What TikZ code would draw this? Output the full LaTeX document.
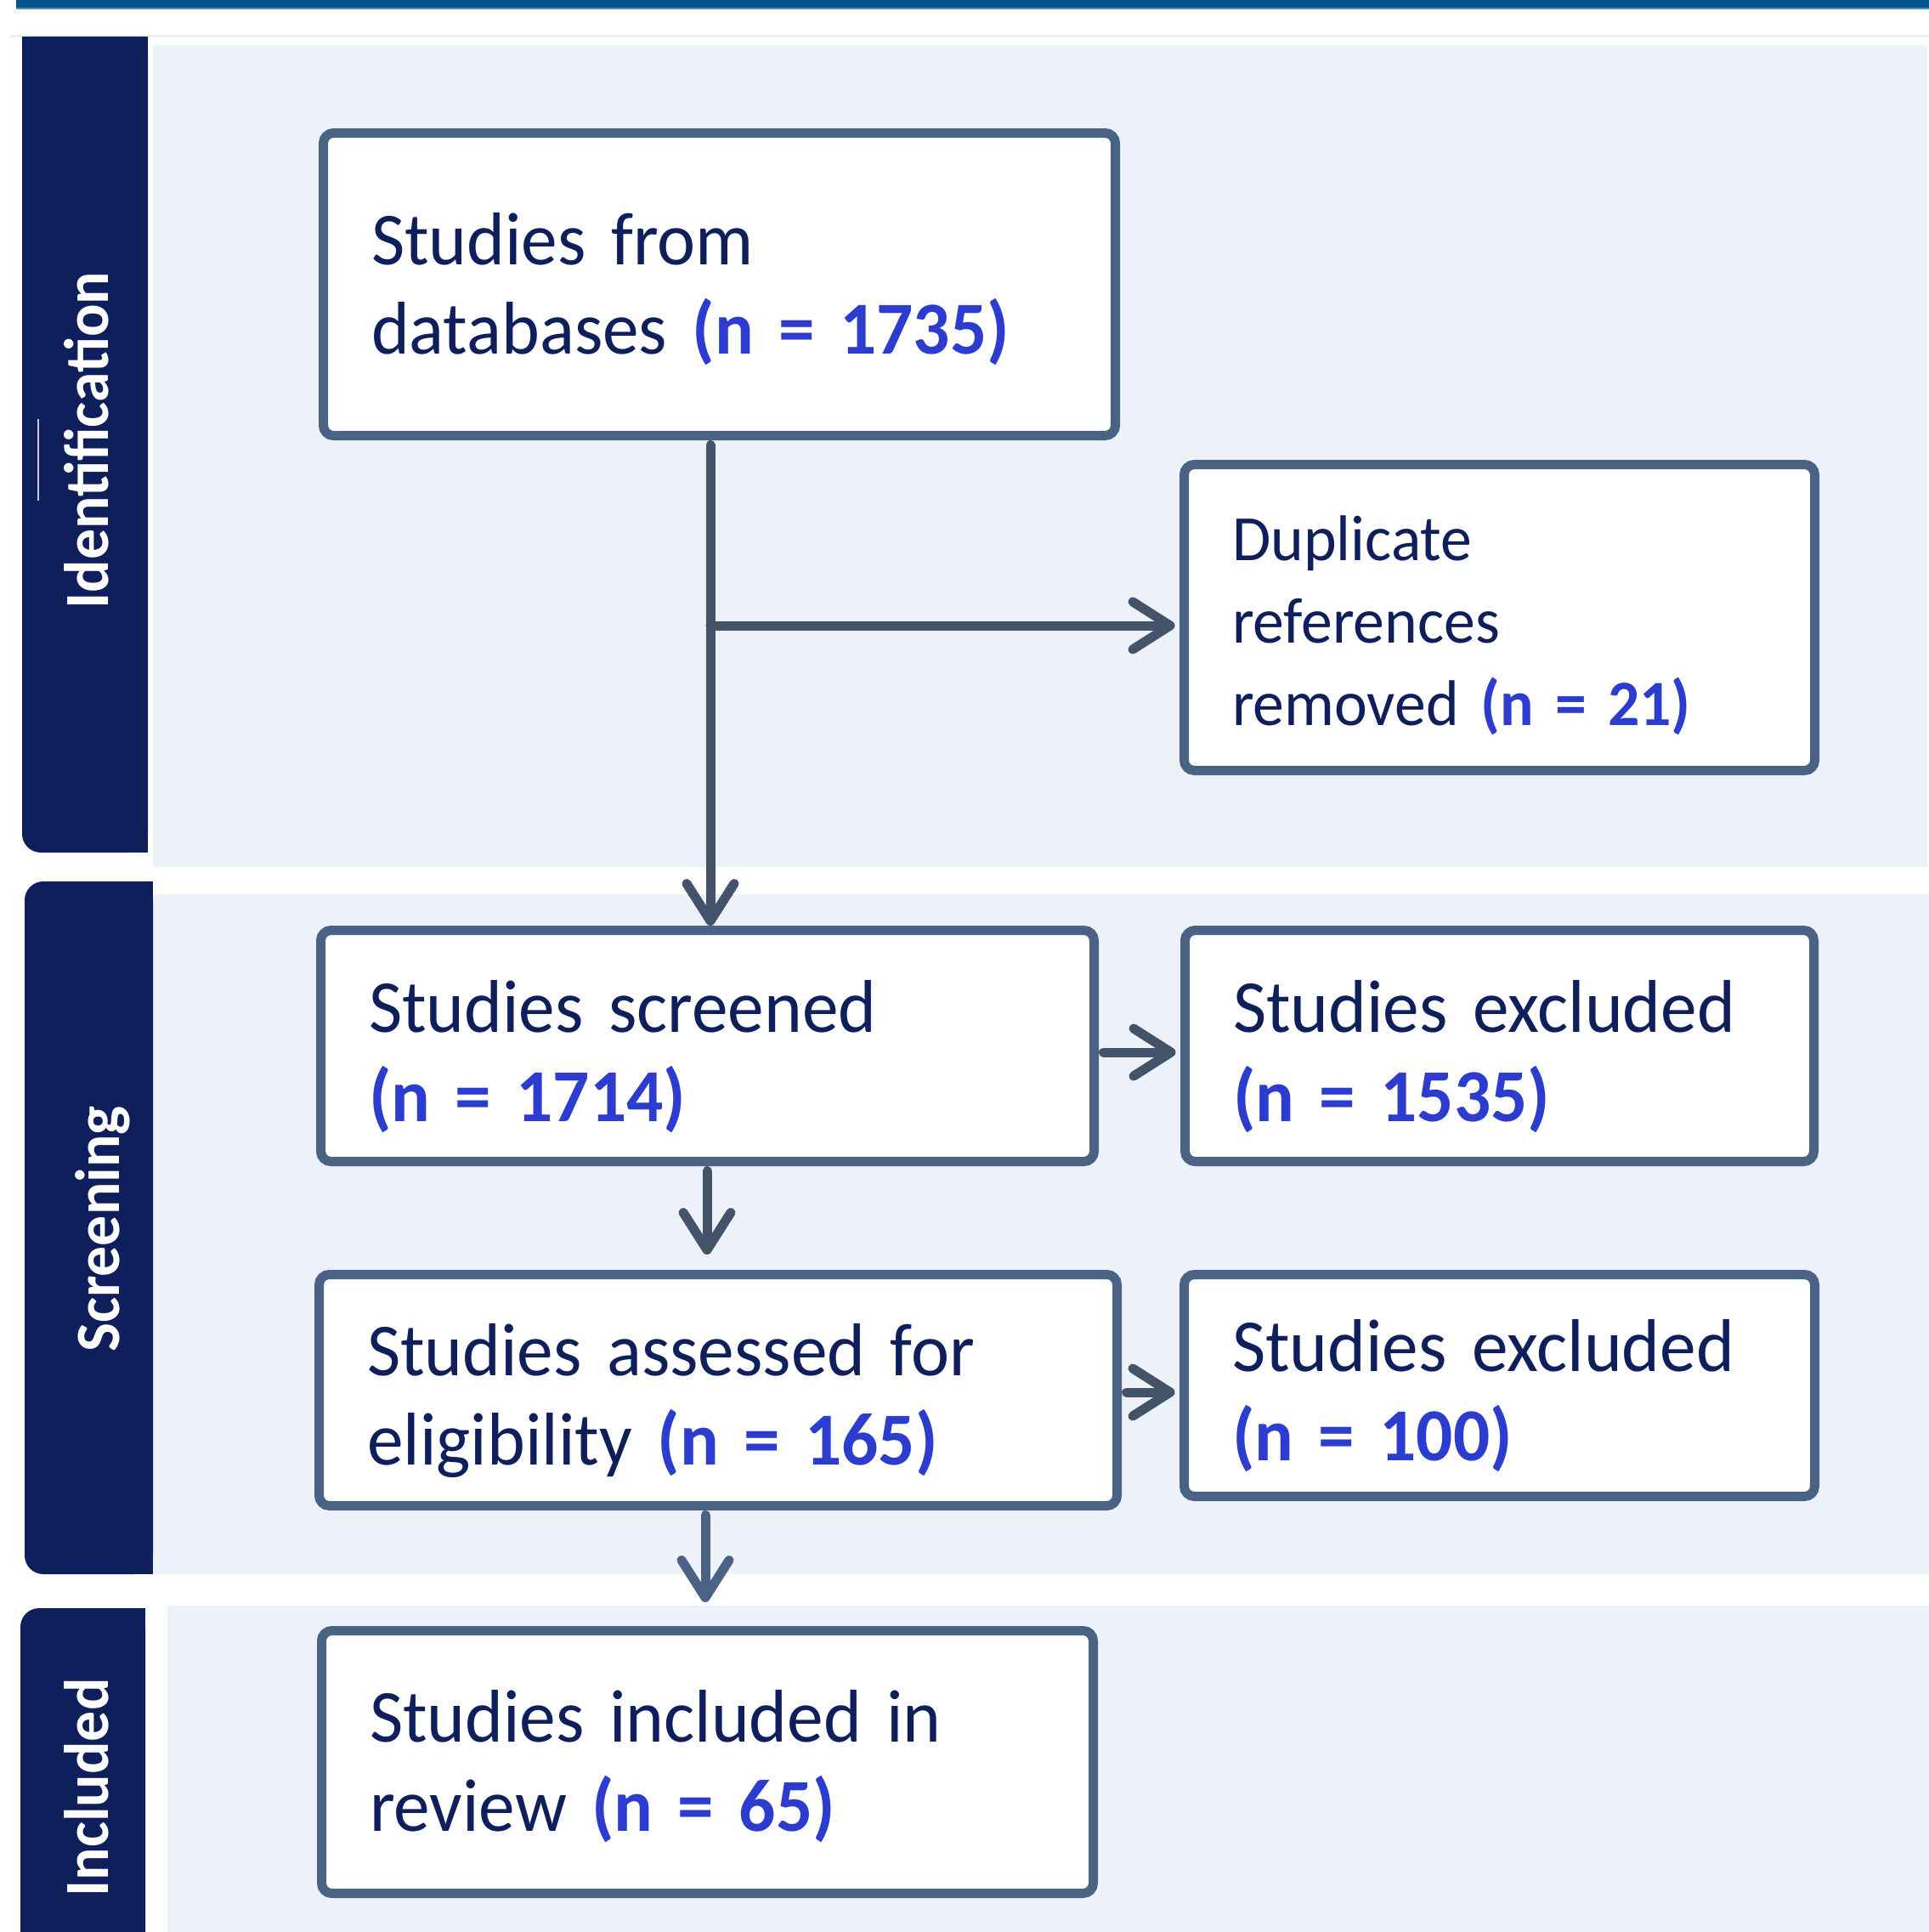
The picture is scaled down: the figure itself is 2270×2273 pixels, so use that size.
\documentclass[tikz,border=0pt]{standalone}
\usepackage{fontspec}
\setmainfont{Carlito}[FakeStretch=0.97,WordSpace=0.75]
\usetikzlibrary{arrows.meta}
\definecolor{topbar}{HTML}{00558A}
\definecolor{topbarlight}{HTML}{5A8CB4}
\definecolor{navy}{HTML}{0F1F5C}
\definecolor{panel}{HTML}{EDF1FA}
\definecolor{boxborder}{HTML}{4A6385}
\definecolor{arrowc}{HTML}{43536A}
\definecolor{txt}{HTML}{0E1F5B}
\definecolor{num}{HTML}{2B3CCF}
\definecolor{grayline}{HTML}{EEEEF0}
\definecolor{faintline}{HTML}{C9CCD8}
\newcommand{\nnum}[1]{{\bfseries\color{num}#1}}
\newcommand{\tstrut}{\rule{0pt}{86pt}}
\newcommand{\lstrut}{\rule{0pt}{72pt}}
\newcommand{\sstrut}{\rule{0pt}{72pt}}
\begin{document}
\begin{tikzpicture}[x=1pt,y=-1pt,
  flowbox/.style={draw=boxborder, line width=11pt, fill=white, rounded corners=12pt,
    inner sep=0pt, align=left, text=txt, font=\fontsize{88}{105}\selectfont},
  sidelab/.style={text=white, font=\fontsize{74}{80}\selectfont\bfseries, rotate=90, inner sep=0pt},
  arr/.style={draw=arrowc, line width=11pt, line cap=round, shorten <=5.5pt,
    -{Straight Barb[length=44pt,width=56pt,round]}},
]
\useasboundingbox (0,0) rectangle (2270,2273);
% header lines
\fill[topbar] (19,0) rectangle (2270,10);
\fill[topbarlight] (19,9) rectangle (2270,10.5);
\fill[grayline] (12,41) rectangle (2270,44);
% panels
\fill[panel, rounded corners=6pt] (180,53) rectangle (2268,1020);
\fill[panel] (180,53) rectangle (1000,1020);
\fill[panel] (180,500) rectangle (2268,1020);
\fill[panel] (180,1052) rectangle (2270,1852);
\fill[panel] (197,1889) rectangle (2270,2273);
% bands
\fill[navy, rounded corners=22pt] (26,43) rectangle (174,1003);
\fill[navy] (26,43) rectangle (174,500);
\fill[navy] (100,43) rectangle (174,1003);
\fill[navy, rounded corners=22pt] (29,1037) rectangle (180,1852);
\fill[navy] (100,1037) rectangle (180,1852);
\fill[navy, rounded corners=22pt] (24,1892) rectangle (171,2300);
\fill[navy] (100,1892) rectangle (171,2273);
\fill[navy] (24,2000) rectangle (171,2273);
\draw[faintline, line width=2pt] (45,493) -- (45,589);
% side labels
\node[sidelab] (lid) at (102,518) {Identification};
\node[sidelab] (lscr) at (121,1446) {Screening};
\node[sidelab] (linc) at (102,2103) {Included};
% boxes
\node[flowbox, minimum width=932pt, minimum height=356pt, text width=819pt] (db) at (846.5,334.5)
  {\lstrut Studies from\\databases \nnum{(n = 1735)}};
\node[flowbox, font=\fontsize{76}{97}\selectfont, minimum width=742pt, minimum height=360pt, text width=629pt] (dup) at (1764.5,726.5)
  {\sstrut Duplicate\\references\\removed \nnum{(n = 21)}};
\node[flowbox, minimum width=910pt, minimum height=272pt, text width=797pt] (scr) at (832.5,1230.5)
  {\tstrut Studies screened\\\nnum{(n = 1714)}};
\node[flowbox, minimum width=740pt, minimum height=272pt, text width=627pt] (exa) at (1764.5,1230.5)
  {\tstrut Studies excluded\\\nnum{(n = 1535)}};
\node[flowbox, minimum width=939pt, minimum height=272pt, text width=826pt] (elig) at (845,1635.5)
  {\tstrut Studies assessed for\\eligibility \nnum{(n = 165)}};
\node[flowbox, minimum width=742pt, minimum height=261pt, text width=629pt] (exb) at (1764.5,1630)
  {\tstrut Studies excluded\\\nnum{(n = 100)}};
\node[flowbox, minimum width=908pt, minimum height=309pt, text width=795pt] (inc) at (832.5,2073)
  {\lstrut Studies included in\\review \nnum{(n = 65)}};
% connector helpers
\coordinate (tx) at (836,0);
\coordinate (tx2) at (832,0);
\coordinate (tx3) at (830,0);
\coordinate (ya) at (0,736);
\coordinate (yb) at (0,1238);
\coordinate (yc) at (0,1638);
% connectors
\draw[arr] (tx |- db.south) -- (tx |- scr.north);
\draw[arr, shorten <=0pt, shorten >=5.5pt] (tx |- ya) -- (dup.west |- ya);
\draw[arr, shorten >=5.5pt] (scr.east |- yb) -- (exa.west |- yb);
\draw[arr, shorten >=18pt] (tx2 |- scr.south) -- (tx2 |- elig.north);
\draw[arr, shorten >=5.5pt] (elig.east |- yc) -- (exb.west |- yc);
\draw[arr, draw=boxborder, shorten >=28pt] (tx3 |- elig.south) -- (tx3 |- inc.north);
\end{tikzpicture}
\end{document}
